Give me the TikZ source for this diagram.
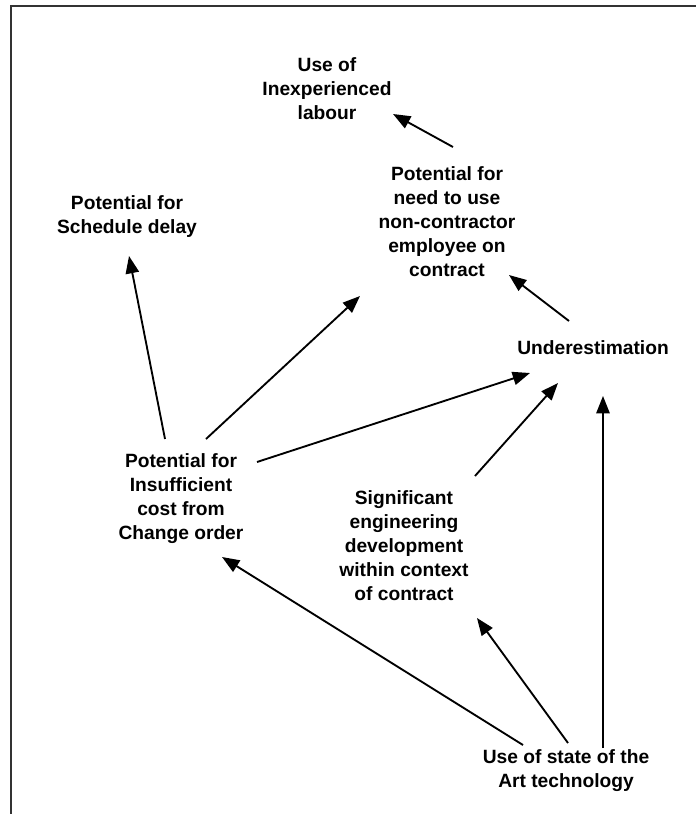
\documentclass[tikz,border=0pt]{standalone}
\usepackage{fontspec}
\setmainfont{Liberation Sans}
\usetikzlibrary{arrows.meta}
\begin{document}
\begin{tikzpicture}[x=0.75pt,y=-0.75pt,
  lbl/.style={align=center,inner sep=0pt,font=\bfseries\fontsize{14.4pt}{18pt}\selectfont},
  arr/.style={line width=1.4pt,-{Triangle[length=13pt,width=10pt]}},
  frame/.style={line width=1.5pt,black!80}]
\useasboundingbox (0,0) rectangle (696,814);
\draw[frame] (11,814) -- (11,5.5) -- (696,5.5);
\node[lbl] (lab) at (327,89) {Use of\\Inexperienced\\labour};
\node[lbl] (need) at (447,222) {Potential for\\need to use\\non-contractor\\employee on\\contract};
\node[lbl] (sched) at (127,217) {Potential for\\Schedule delay};
\node[lbl] (und) at (593,348) {Underestimation};
\node[lbl] (ins) at (181,499) {Potential for\\Insufficient\\cost from\\Change order};
\node[lbl] (sig) at (404,546) {Significant\\engineering\\development\\within context\\of contract};
\node[lbl] (tech) at (566,771) {Use of state of the\\Art technology};
\draw[arr] ([shift={(6,-75)}]need.center) -- ([shift={(66,25)}]lab.center);
\draw[arr] ([shift={(-24,-27)}]und.center) -- ([shift={(62,53)}]need.center);
\draw[arr] ([shift={(-16,-60)}]ins.center) -- ([shift={(2,39)}]sched.center);
\draw[arr] ([shift={(25,-60)}]ins.center) -- ([shift={(-87,74)}]need.center);
\draw[arr] ([shift={(76,-37)}]ins.center) -- ([shift={(-63,25)}]und.center);
\draw[arr] ([shift={(71,-70)}]sig.center) -- ([shift={(-35,35)}]und.center);
\draw[arr] ([shift={(37,-23)}]tech.center) -- ([shift={(10,48)}]und.center);
\draw[arr] ([shift={(2,-28)}]tech.center) -- ([shift={(73,72)}]sig.center);
\draw[arr] ([shift={(-43,-26)}]tech.center) -- ([shift={(41,58)}]ins.center);
\end{tikzpicture}
\end{document}
